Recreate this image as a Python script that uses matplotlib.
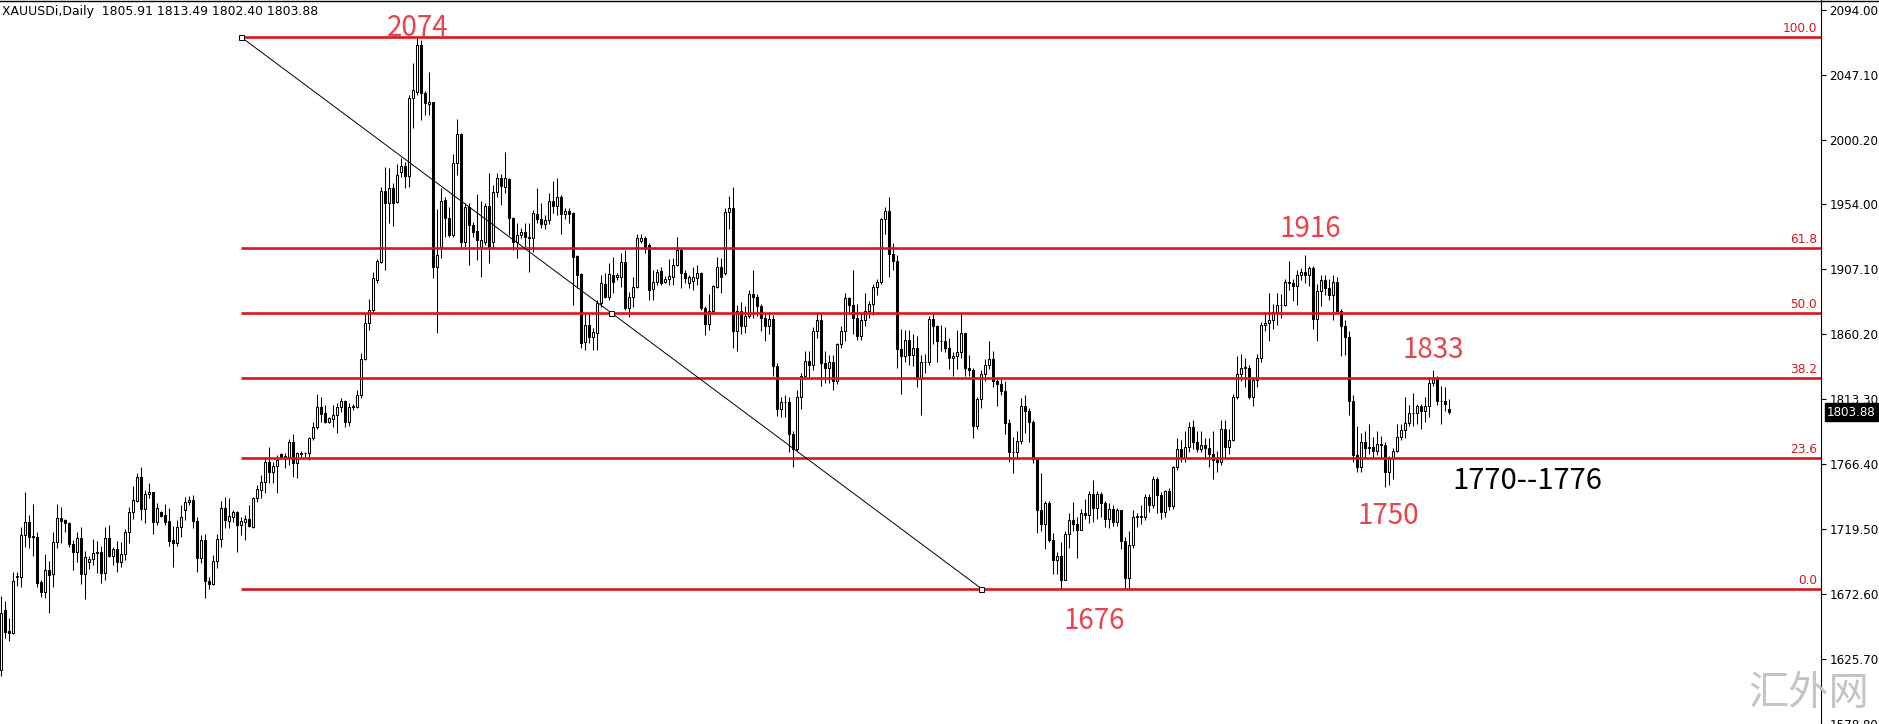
import matplotlib
matplotlib.use("Agg")
import matplotlib.pyplot as plt
import numpy as np
from matplotlib.transforms import blended_transform_factory
from matplotlib.lines import Line2D

# ---------------- data (XAUUSDi daily candles) ----------------
opens = [
    1618.0, 1661.2, 1646.1, 1644.9, 1684.8, 1684.8, 1715.1, 1724.7, 1714.6, 1713.6,
    1681.7, 1674.4, 1690.1, 1686.9, 1710.0, 1727.6, 1726.1, 1723.7, 1708.8, 1703.3,
    1712.9, 1686.9, 1696.1, 1697.8, 1702.1, 1702.8, 1688.1, 1712.9, 1700.2, 1705.2,
    1696.1, 1701.3, 1717.2, 1731.6, 1739.8, 1756.8, 1733.8, 1744.6, 1746.0, 1724.9,
    1731.6, 1729.7, 1725.4, 1711.7, 1709.7, 1720.8, 1733.3, 1738.8, 1740.5, 1725.6,
    1698.9, 1711.7, 1682.4, 1680.0, 1696.5, 1712.4, 1734.5, 1725.6, 1728.5, 1731.6,
    1722.5, 1724.9, 1726.8, 1721.3, 1741.7, 1747.7, 1753.7, 1767.6, 1760.9, 1765.0,
    1773.4, 1771.7, 1771.7, 1782.1, 1766.9, 1773.6, 1774.1, 1774.1, 1784.9, 1792.9,
    1807.8, 1803.0, 1796.9, 1798.6, 1801.8, 1807.8, 1811.9, 1796.9, 1808.3, 1807.8,
    1816.2, 1841.9, 1868.3, 1877.4, 1899.1, 1912.3, 1963.5, 1954.8, 1965.2, 1955.5,
    1977.2, 1981.5, 1974.3, 2030.0, 2034.8, 2068.5, 2033.6, 2026.0, 2027.1, 1908.2,
    1921.9, 1956.7, 1944.0, 1931.5, 1983.2, 2004.1, 1926.2, 1951.4, 1938.7, 1934.4,
    1922.0, 1926.7, 1952.4, 1926.7, 1962.7, 1972.3, 1966.3, 1971.9, 1943.5, 1926.7,
    1931.5, 1933.4, 1929.8, 1929.1, 1946.6, 1942.8, 1939.4, 1942.3, 1956.2, 1952.4,
    1959.1, 1946.6, 1948.8, 1947.6, 1916.4, 1903.1, 1854.6, 1866.6, 1858.2, 1860.6,
    1882.2, 1896.2, 1887.0, 1902.7, 1901.5, 1901.5, 1912.3, 1878.6, 1887.0, 1894.3,
    1927.4, 1929.1, 1924.3, 1892.3, 1897.4, 1905.6, 1897.9, 1899.8, 1901.5, 1909.9,
    1920.7, 1903.9, 1897.1, 1898.6, 1900.3, 1903.9, 1879.1, 1867.1, 1877.0, 1894.3,
    1908.7, 1904, 1948, 1951, 1862, 1877, 1866, 1873, 1889, 1887,
    1880, 1872, 1866, 1871, 1837, 1806, 1811, 1811, 1788, 1777,
    1815, 1830, 1841, 1838, 1862, 1870, 1839, 1836, 1840, 1826,
    1853, 1862, 1886, 1881, 1872, 1859, 1870, 1877, 1882, 1894,
    1898, 1943, 1949, 1918, 1913, 1849, 1844, 1856, 1845, 1850,
    1828, 1840, 1840, 1871, 1866, 1855, 1855, 1850, 1843, 1844,
    1847, 1861, 1836, 1834, 1794, 1813, 1831, 1838, 1842, 1826,
    1824, 1819, 1796, 1775, 1775, 1783, 1808, 1805, 1797, 1770,
    1733, 1723, 1738, 1712, 1697, 1700, 1683, 1716, 1726, 1723,
    1719, 1731, 1730, 1745, 1735, 1745, 1738, 1727, 1734, 1725,
    1733, 1711, 1684, 1708, 1728, 1729, 1728, 1743, 1737, 1756,
    1744, 1732, 1747, 1736, 1764, 1777, 1771, 1779, 1793, 1782,
    1777, 1780, 1778, 1774, 1769, 1768, 1792, 1779, 1784, 1815,
    1831, 1836, 1836, 1815, 1827, 1843, 1867, 1868, 1870, 1876,
    1881, 1881, 1898, 1897, 1895, 1903, 1905, 1903, 1908, 1871,
    1891, 1899, 1893, 1888, 1898, 1877, 1866, 1858, 1812, 1773,
    1764, 1782, 1778, 1779, 1776, 1781, 1780, 1761, 1770, 1776,
    1786, 1791, 1796, 1803, 1803, 1808, 1805, 1808, 1825, 1828,
    1812, 1812, 1805.91,
]
highs = [
    1671.6, 1667.7, 1655.2, 1688.9, 1688.9, 1721.3, 1746.5, 1729.7, 1737.6, 1717.7,
    1682.9, 1701.6, 1696.6, 1717.5, 1737.6, 1735.2, 1726.6, 1724.9, 1711.7, 1717.7,
    1720.8, 1704.0, 1700.2, 1712.4, 1711.0, 1707.4, 1720.8, 1722.5, 1706.9, 1711.0,
    1710.0, 1719.4, 1735.7, 1750.8, 1759.7, 1764.0, 1747.7, 1752.5, 1746.5, 1738.6,
    1732.8, 1737.6, 1734.5, 1721.7, 1726.1, 1736.9, 1742.9, 1743.4, 1744.1, 1728.5,
    1715.3, 1715.7, 1685.2, 1700.8, 1716.0, 1739.8, 1742.9, 1741.7, 1733.3, 1732.8,
    1728.5, 1729.7, 1736.9, 1742.9, 1751.3, 1758.5, 1769.8, 1778.9, 1768.1, 1772.9,
    1774.1, 1774.1, 1784.2, 1787.8, 1775.3, 1776.0, 1775.3, 1786.1, 1796.9, 1816.9,
    1814.5, 1809.0, 1800.5, 1809.0, 1810.2, 1813.8, 1812.6, 1810.2, 1809.7, 1819.8,
    1846.2, 1875.0, 1885.1, 1905.1, 1914.2, 1966.3, 1980.8, 1979.6, 1969.2, 1982.7,
    1986.8, 1984.4, 2032.4, 2055.3, 2074.1, 2072.1, 2035.6, 2049.3, 2027.6, 1950.0,
    1965.1, 1959.1, 1951.9, 1989.9, 2014.9, 2004.8, 1954.8, 1954.3, 1941.1, 1960.8,
    1956.0, 1954.3, 1976.0, 1967.5, 1975.9, 1975.2, 1991.1, 1972.3, 1944.7, 1939.9,
    1936.3, 1939.9, 1939.9, 1949.5, 1965.1, 1954.3, 1945.9, 1961.5, 1970.7, 1972.3,
    1960.3, 1950.7, 1950.7, 1948.3, 1917.1, 1903.9, 1875.0, 1875.0, 1864.7, 1884.6,
    1902.7, 1903.9, 1911.1, 1915.9, 1903.9, 1918.3, 1920.7, 1890.6, 1901.5, 1932.2,
    1932.2, 1930.8, 1925.5, 1906.3, 1906.8, 1908.7, 1902.0, 1914.0, 1914.7, 1930.3,
    1921.2, 1906.3, 1902.7, 1908.7, 1909.9, 1905.1, 1880.3, 1889.0, 1895.5, 1915.9,
    1914.7, 1951, 1960, 1966, 1881, 1883, 1880, 1892, 1906, 1889,
    1882, 1875, 1876, 1874, 1839, 1815, 1816, 1815, 1790, 1820,
    1832, 1848, 1848, 1865, 1875, 1875, 1848, 1845, 1845, 1854,
    1866, 1890, 1887, 1906, 1882, 1876, 1890, 1884, 1896, 1900,
    1944, 1952, 1959, 1926, 1917, 1864, 1863, 1863, 1860, 1859,
    1845, 1846, 1873, 1875, 1867, 1867, 1865, 1857, 1847, 1863,
    1875, 1861, 1845, 1836, 1815, 1834, 1842, 1855, 1848, 1828,
    1828, 1826, 1799, 1786, 1790, 1814, 1816, 1807, 1798, 1771,
    1760, 1740, 1740, 1717, 1703, 1710, 1718, 1731, 1739, 1728,
    1734, 1741, 1747, 1755, 1747, 1746, 1740, 1738, 1737, 1735,
    1733, 1714, 1718, 1733, 1731, 1737, 1745, 1745, 1758, 1757,
    1746, 1748, 1749, 1765, 1785, 1784, 1790, 1797, 1798, 1790,
    1790, 1785, 1785, 1790, 1776, 1798, 1798, 1792, 1817, 1844,
    1846, 1843, 1838, 1829, 1846, 1869, 1875, 1890, 1882, 1890,
    1889, 1900, 1913, 1900, 1906, 1908, 1917, 1909, 1909, 1896,
    1903, 1903, 1900, 1903, 1901, 1878, 1870, 1862, 1816, 1794,
    1789, 1790, 1795, 1786, 1790, 1787, 1782, 1772, 1778, 1795,
    1795, 1815, 1809, 1818, 1810, 1810, 1815, 1829, 1834, 1830,
    1823, 1822, 1813.49,
]
lows = [
    1613.9, 1640.8, 1639.1, 1643.9, 1678.5, 1677.6, 1706.9, 1705.7, 1700.2, 1677.6,
    1670.8, 1670.1, 1658.8, 1678.0, 1705.7, 1709.3, 1717.7, 1706.9, 1690.1, 1696.1,
    1680.0, 1668.9, 1690.5, 1693.6, 1688.1, 1680.5, 1682.9, 1699.2, 1693.6, 1688.9,
    1692.0, 1697.2, 1709.2, 1726.8, 1739.3, 1726.1, 1724.2, 1741.7, 1715.7, 1722.5,
    1728.0, 1722.5, 1707.6, 1692.4, 1707.6, 1714.1, 1726.1, 1736.9, 1720.1, 1688.4,
    1695.3, 1669.6, 1676.1, 1679.2, 1691.7, 1706.9, 1720.5, 1720.1, 1724.9, 1702.8,
    1715.3, 1711.7, 1721.3, 1720.1, 1739.3, 1741.7, 1745.3, 1752.5, 1753.0, 1745.8,
    1769.8, 1763.3, 1765.7, 1757.3, 1756.1, 1771.7, 1771.7, 1769.3, 1783.7, 1791.4,
    1796.9, 1795.7, 1796.2, 1793.3, 1788.5, 1804.2, 1793.3, 1793.8, 1805.4, 1806.6,
    1813.8, 1841.4, 1863.0, 1875.0, 1896.7, 1911.1, 1906.3, 1940.4, 1938.0, 1954.3,
    1973.6, 1965.2, 1966.3, 2008.4, 2032.4, 2014.4, 2018.0, 2018.0, 1900.3, 1861.1,
    1915.0, 1930.3, 1930.3, 1930.3, 1974.8, 1923.1, 1923.1, 1909.9, 1930.3, 1913.5,
    1901.5, 1924.0, 1911.1, 1921.9, 1959.1, 1953.1, 1961.5, 1931.5, 1920.7, 1914.7,
    1929.1, 1923.1, 1905.1, 1919.5, 1939.9, 1936.3, 1935.6, 1939.2, 1947.1, 1945.9,
    1932.2, 1942.8, 1940.4, 1881.0, 1893.0, 1849.8, 1848.6, 1853.4, 1848.6, 1848.6,
    1879.8, 1885.8, 1884.6, 1889.4, 1899.1, 1894.3, 1877.4, 1872.6, 1879.8, 1893.0,
    1925.5, 1918.3, 1884.6, 1884.6, 1895.5, 1895.5, 1896.7, 1895.5, 1895.5, 1909.1,
    1893.0, 1896.7, 1893.0, 1891.9, 1895.5, 1877.4, 1859.4, 1863.0, 1875.0, 1893.0,
    1889.5, 1903, 1936, 1850, 1848, 1860, 1861, 1872, 1872, 1873,
    1862, 1855, 1860, 1830, 1801, 1800, 1800, 1775, 1764, 1776,
    1806, 1828, 1829, 1834, 1857, 1823, 1825, 1825, 1820, 1824,
    1850, 1855, 1876, 1860, 1856, 1856, 1866, 1872, 1874, 1888,
    1896, 1932, 1901, 1906, 1836, 1817, 1840, 1838, 1837, 1822,
    1802, 1832, 1838, 1853, 1840, 1848, 1847, 1835, 1830, 1835,
    1843, 1830, 1830, 1785, 1792, 1807, 1826, 1835, 1822, 1808,
    1816, 1788, 1768, 1760, 1770, 1781, 1789, 1782, 1767, 1717,
    1718, 1705, 1710, 1687, 1687, 1676, 1683, 1706, 1718, 1699,
    1719, 1727, 1724, 1725, 1727, 1728, 1721, 1720, 1722, 1722,
    1705, 1677, 1677, 1706, 1721, 1723, 1726, 1732, 1735, 1731,
    1727, 1728, 1733, 1734, 1762, 1768, 1768, 1775, 1777, 1775,
    1775, 1770, 1764, 1756, 1761, 1766, 1771, 1774, 1783, 1813,
    1826, 1822, 1813, 1808, 1822, 1840, 1862, 1855, 1864, 1867,
    1872, 1880, 1892, 1884, 1881, 1899, 1897, 1895, 1864, 1855,
    1880, 1888, 1885, 1870, 1876, 1844, 1845, 1802, 1768, 1761,
    1761, 1771, 1774, 1771, 1773, 1770, 1750, 1751, 1756, 1775,
    1784, 1785, 1794, 1794, 1795, 1792, 1797, 1800, 1823, 1809,
    1795, 1805, 1802.40,
]
closes = [
    1659.3, 1645.6, 1644.9, 1682.1, 1685.8, 1715.1, 1724.7, 1714.1, 1713.6, 1681.0,
    1674.4, 1690.1, 1686.2, 1710.0, 1727.6, 1725.6, 1723.7, 1708.6, 1703.3, 1712.9,
    1686.9, 1699.2, 1697.8, 1702.1, 1702.8, 1688.1, 1712.9, 1700.2, 1705.2, 1696.1,
    1701.4, 1717.7, 1732.1, 1740.5, 1756.8, 1733.8, 1744.8, 1746.0, 1724.9, 1734.5,
    1729.0, 1724.9, 1711.2, 1709.7, 1720.8, 1728.0, 1739.1, 1740.5, 1725.6, 1698.9,
    1711.7, 1682.4, 1680.0, 1696.5, 1712.4, 1734.5, 1726.1, 1729.0, 1731.6, 1722.5,
    1725.4, 1726.8, 1722.0, 1741.7, 1748.2, 1753.7, 1767.6, 1760.9, 1765.2, 1769.3,
    1771.7, 1772.2, 1782.1, 1766.9, 1774.1, 1774.6, 1774.1, 1784.9, 1792.9, 1807.8,
    1802.5, 1796.9, 1799.3, 1801.8, 1807.8, 1811.9, 1796.9, 1807.8, 1807.3, 1816.2,
    1841.9, 1868.3, 1877.4, 1900.3, 1913.0, 1963.5, 1954.8, 1965.2, 1954.8, 1974.8,
    1981.2, 1974.3, 2030.0, 2036.0, 2068.5, 2033.6, 2026.4, 2027.6, 1908.2, 1917.0,
    1956.2, 1944.0, 1931.5, 1983.2, 2004.1, 1926.7, 1951.9, 1938.7, 1933.9, 1927.9,
    1928.0, 1952.4, 1923.1, 1962.7, 1972.3, 1966.8, 1972.3, 1943.5, 1926.7, 1931.5,
    1933.9, 1929.8, 1929.1, 1947.1, 1942.8, 1939.4, 1942.3, 1956.2, 1952.4, 1959.1,
    1946.6, 1949.0, 1946.4, 1915.9, 1902.7, 1853.4, 1866.6, 1858.2, 1861.8, 1882.2,
    1896.7, 1887.0, 1903.1, 1897.9, 1902.7, 1912.3, 1878.6, 1887.0, 1894.3, 1929.1,
    1929.1, 1923.1, 1891.9, 1897.4, 1905.1, 1896.7, 1899.8, 1901.9, 1909.9, 1920.7,
    1903.9, 1900.3, 1901.5, 1901.5, 1904.4, 1878.6, 1867.1, 1877.0, 1894.7, 1908.7,
    1901.5, 1948, 1951, 1862, 1877, 1866, 1873, 1889, 1887, 1880,
    1872, 1866, 1871, 1837, 1806, 1811, 1811, 1788, 1777, 1815,
    1830, 1841, 1838, 1862, 1870, 1839, 1836, 1840, 1826, 1853,
    1862, 1886, 1881, 1872, 1859, 1870, 1877, 1882, 1894, 1898,
    1943, 1949, 1918, 1913, 1849, 1844, 1856, 1845, 1850, 1828,
    1840, 1840, 1871, 1866, 1855, 1855, 1850, 1843, 1844, 1847,
    1861, 1836, 1834, 1794, 1813, 1831, 1838, 1842, 1826, 1824,
    1819, 1796, 1775, 1775, 1783, 1808, 1805, 1797, 1770, 1733,
    1723, 1738, 1712, 1697, 1700, 1683, 1716, 1726, 1723, 1719,
    1731, 1730, 1745, 1735, 1745, 1738, 1727, 1734, 1725, 1733,
    1711, 1684, 1708, 1728, 1729, 1728, 1743, 1737, 1756, 1744,
    1732, 1747, 1736, 1764, 1777, 1771, 1779, 1793, 1782, 1777,
    1780, 1778, 1774, 1769, 1768, 1792, 1779, 1784, 1815, 1831,
    1836, 1836, 1815, 1827, 1843, 1867, 1868, 1870, 1876, 1881,
    1881, 1898, 1897, 1895, 1903, 1905, 1903, 1908, 1871, 1891,
    1899, 1893, 1888, 1898, 1877, 1866, 1858, 1812, 1773, 1764,
    1782, 1778, 1779, 1776, 1781, 1780, 1761, 1770, 1776, 1786,
    1791, 1796, 1803, 1803, 1808, 1805, 1808, 1825, 1828, 1812,
    1812, 1810, 1803.88,
]

header_text = "XAUUSDi,Daily  1805.91 1813.49 1802.40 1803.88"

# Fibonacci retracement object
fib_start_bar, fib_end_bar = 60, 245
fib_high, fib_low = 2074.1, 1676.7
fib_ratios = [0.0, 0.236, 0.382, 0.5, 0.618, 1.0]
fib_labels = ["0.0", "23.6", "38.2", "50.0", "61.8", "100.0"]

# price axis
ytick_values = [2094.00, 2047.10, 2000.20, 1954.00, 1907.10, 1860.20,
                1813.30, 1766.40, 1719.50, 1672.60, 1625.70, 1578.80]
ytick_labels = ["2094.00", "2047.10", "2000.20", "1954.00", "1907.10", "1860.20",
                "1813.30", "1766.40", "1719.50", "1672.60", "1625.70", "1578.80"]
y_range = (1571.85, 2100.92)

# red price annotations: text, bar position, baseline price
red_notes = [("2074", 104, 2074.8), ("1916", 327.2, 1930.1), ("1833", 358.0, 1842.9),
             ("1750", 346.7, 1723.2), ("1676", 273.2, 1647.5)]
range_note = ("1770--1776", 362.7, 1748.4)
watermark = "汇外网"

# ---------------- figure ----------------
W, H, DPI = 1879, 724, 100
fig = plt.figure(figsize=(W / DPI, H / DPI), dpi=DPI)
fig.patch.set_facecolor("white")
axis_px = 1821
ax = fig.add_axes([0, -10 / H, axis_px / W, 734 / H])
ax.set_facecolor("white")

o = np.array(opens, float)
h = np.array(highs, float)
l = np.array(lows, float)
c = np.array(closes, float)
n = len(c)
x = np.arange(n)

bar_px = 4.0
xmin = -1.3 / bar_px
ax.set_xlim(xmin, xmin + axis_px / bar_px)
ax.set_ylim(*y_range)

# wicks
ax.vlines(x, l, h, color="black", linewidth=0.75, zorder=2)
# bodies
up = c >= o
bottoms = np.minimum(o, c)
heights = np.maximum(np.abs(c - o), 0.05)
faces = ["white" if u else "black" for u in up]
ax.bar(x, heights, bottom=bottoms, width=0.5, color=faces, edgecolor="black",
       linewidth=0.75, zorder=3)

# fibonacci levels
fib_red = "#D9161B"
xmax = ax.get_xlim()[1]
levels = [fib_low + r * (fib_high - fib_low) for r in fib_ratios]
ax.hlines(levels, fib_start_bar, xmax, color=fib_red, linewidth=1.9, zorder=4)
trans = blended_transform_factory(ax.transAxes, ax.transData)
for lv, lab in zip(levels, fib_labels):
    ax.annotate(lab, xy=(1.0, lv), xycoords=trans, xytext=(-4, 2),
                textcoords="offset pixels", ha="right", va="bottom",
                color=fib_red, fontsize=8.7, family="DejaVu Sans", zorder=6)

# fib trend line with anchor squares
ax.plot([fib_start_bar, fib_end_bar], [fib_high, fib_low], color="black",
        linewidth=0.7, zorder=5)
mid_bar = (fib_start_bar + fib_end_bar) / 2
mid_price = (fib_high + fib_low) / 2
ax.plot([fib_start_bar, mid_bar, fib_end_bar], [fib_high, mid_price, fib_low],
        linestyle="none", marker="s", markersize=3.6, markerfacecolor="white",
        markeredgecolor="black", markeredgewidth=0.7, zorder=6)

# annotations
note_red = "#E9434D"
for txt, bx, py in red_notes:
    ax.text(bx, py, txt, ha="center", va="baseline", color=note_red, fontsize=20,
            family=["Noto Sans CJK SC", "DejaVu Sans"], zorder=7)
ax.text(range_note[1], range_note[2], range_note[0], ha="left", va="baseline",
        color="black", fontsize=21, family=["Noto Sans CJK SC", "DejaVu Sans"], zorder=7)

# axes styling
for s in ["left", "top", "bottom"]:
    ax.spines[s].set_visible(False)
ax.spines["right"].set_color("black")
ax.spines["right"].set_linewidth(0.8)
ax.set_xticks([])
ax.yaxis.tick_right()
ax.set_yticks(ytick_values)
ax.set_yticklabels(ytick_labels)
ax.tick_params(axis="y", direction="out", length=3.5, width=0.8, pad=2.5,
               labelsize=8.6, colors="black")
for t in ax.get_yticklabels():
    t.set_family("DejaVu Sans")

# current price box
ax.annotate(f"{c[-1]:.2f}", xy=(1.0, c[-1]), xycoords=trans, xytext=(6, 0),
            textcoords="offset pixels", ha="left", va="center", color="white",
            fontsize=8.6, family="DejaVu Sans",
            bbox=dict(boxstyle="square,pad=0.2", fc="black", ec="black"),
            annotation_clip=False, zorder=8)

# header
fig.text(2 / W, 1 - 5 / H, header_text, ha="left", va="top", fontsize=8.9,
         family="DejaVu Sans", color="black")
# top frame line
fig.add_artist(Line2D([0, 1], [1 - 0.5 / H, 1 - 0.5 / H], color="black",
                      linewidth=1.0, transform=fig.transFigure))

# watermark
fig.text(1809 / W, (H - 694) / H, watermark, ha="center", va="center",
         fontsize=29, color="#C4C4C4", family=["Noto Sans CJK SC", "DejaVu Sans"],
         zorder=10)

fig.savefig("out.png", dpi=DPI, facecolor="white")
